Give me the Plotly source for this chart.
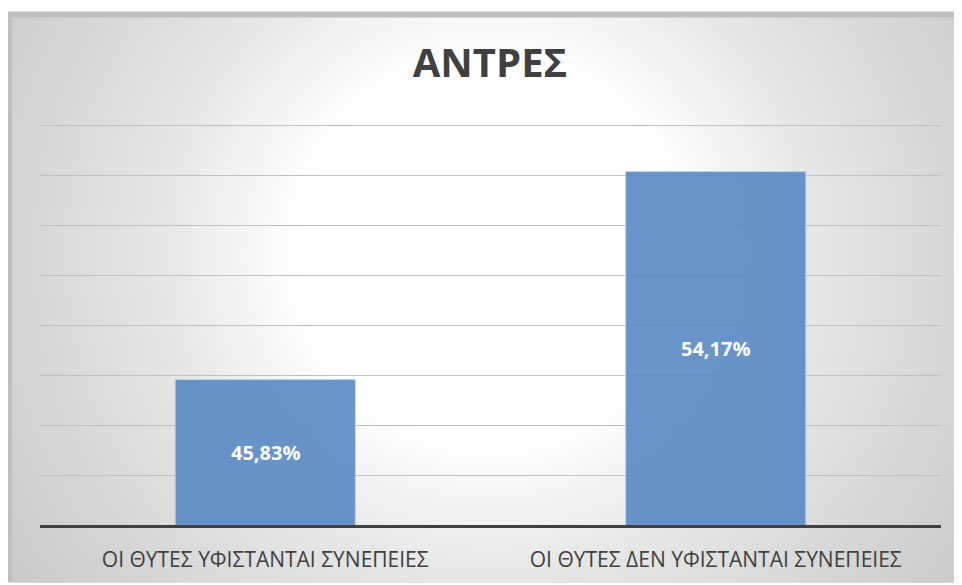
import base64
import plotly.graph_objects as go

categories = ["ΟΙ ΘΥΤΕΣ ΥΦΙΣΤΑΝΤΑΙ ΣΥΝΕΠΕΙΕΣ", "ΟΙ ΘΥΤΕΣ ΔΕΝ ΥΦΙΣΤΑΝΤΑΙ ΣΥΝΕΠΕΙΕΣ"]
values = [45.83, 54.17]
title_text = "ΑΝΤΡΕΣ"
y_min, y_max, y_step = 40, 56, 2

# page has an 8px body margin, so the figure is placed at (8, 8)
OFF = 8
W, H = 962 - OFF, 585 - OFF
ML, MR, MT, MB = 32, 21, 113, 58
PW, PH = W - ML - MR, H - MT - MB
y_top = y_max + 0.2

svg = f'''<svg xmlns="http://www.w3.org/2000/svg" width="{W}" height="{H}" viewBox="0 0 {W} {H}" preserveAspectRatio="none">
<defs>
<radialGradient id="g" gradientUnits="userSpaceOnUse" cx="482" cy="245" r="600">
<stop offset="0" stop-color="#ffffff"/>
<stop offset="0.32" stop-color="#ffffff"/>
<stop offset="0.55" stop-color="#e6e6e6"/>
<stop offset="0.82" stop-color="#d3d3d3"/>
<stop offset="1" stop-color="#c8c8c8"/>
</radialGradient>
</defs>
<rect x="0" y="0" width="{W}" height="{H}" fill="#ffffff"/>
<rect x="0" y="3" width="{W}" height="{H-3}" fill="#bfbfbf"/>
<rect x="4" y="9" width="{W-4}" height="{H-9}" fill="url(#g)"/>
</svg>'''
src = "data:image/svg+xml;base64," + base64.b64encode(svg.encode("utf-8")).decode()

fig = go.Figure()
fig.add_trace(go.Bar(
    x=categories, y=values,
    marker=dict(color="rgba(91,139,198,0.92)", line=dict(color="rgba(190,208,232,0.9)", width=1)),
    width=0.4, hoverinfo="skip",
))

for c, v in zip(categories, values):
    fig.add_annotation(
        x=c, y=(y_min + v) / 2, xref="x", yref="y",
        text=f"{v:.2f}%".replace(".", ","), showarrow=False,
        font=dict(family="Open Sans", size=20, color="white", weight="bold"),
    )

fig.add_layout_image(dict(
    source=src, xref="paper", yref="paper",
    x=-ML / PW, y=1 + MT / PH,
    sizex=W / PW, sizey=H / PH, sizing="stretch",
    xanchor="left", yanchor="top", layer="below",
))

fig.update_layout(
    width=W, height=H,
    margin=dict(l=ML, r=MR, t=MT, b=MB, pad=0),
    paper_bgcolor="white", plot_bgcolor="rgba(0,0,0,0)",
    separators=",.",
    showlegend=False,
    title=dict(text=title_text, x=(490 - OFF) / W, xref="container", xanchor="center",
               y=1 - 54.5 / H, yref="container", yanchor="middle",
               font=dict(family="Open Sans", size=40, color="#404040", weight="bold")),
    xaxis=dict(showline=True, linecolor="#404040", linewidth=3, ticks="",
               tickfont=dict(family="Open Sans", size=21, color="#404040"),
               ticklabelstandoff=14, fixedrange=True),
    yaxis=dict(range=[y_min, y_top], dtick=y_step, tick0=y_min, showgrid=True, gridcolor="#c0c0c0",
               gridwidth=1.3, showticklabels=False, zeroline=False, fixedrange=True),
)

fig.write_html("out.html")
